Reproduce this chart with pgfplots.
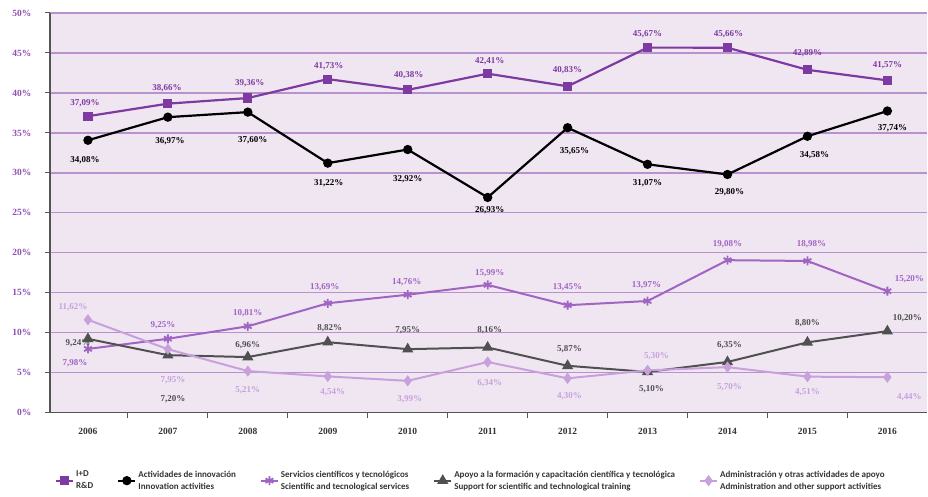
\documentclass[border=0pt]{standalone}
\usepackage{pgfplots}
\usepackage{pgfplotstable}
\pgfplotsset{compat=1.18}
\usepackage{fontspec}
\setmainfont{Liberation Serif}
\newfontfamily\legfont{Carlito}

\definecolor{rdc}{RGB}{125,58,160}
\definecolor{svc}{RGB}{160,100,195}
\definecolor{adm}{RGB}{200,160,220}
\definecolor{sup}{RGB}{80,80,80}
\definecolor{bgc}{RGB}{240,230,242}
\definecolor{gridc}{RGB}{185,145,205}
\definecolor{ytc}{RGB}{140,80,180}
\definecolor{axc}{RGB}{85,85,85}

\pgfplotstableread{
x y dx dy
0 37.09 -3 13
1 38.66 -1 15
2 39.36 2 15
3 41.73 1 13
4 40.38 1 15
5 42.41 2 12
6 40.83 0 16
7 45.67 0 13
8 45.66 1 13
9 42.89 0 17
10 41.57 0 15
}\rd

\pgfplotstableread{
x y dx dy
0 34.08 -3 -20
1 36.97 2 -24
2 37.60 5 -28
3 31.22 1 -20
4 32.92 0 -30
5 26.93 2 -13
6 35.65 7 -24
7 31.07 0 -19
8 29.80 2 -18
9 34.58 7 -19
10 37.74 5 -17
}\inno

\pgfplotstableread{
x y dx dy
0 7.98 -13 -14
1 9.25 -5 14
2 10.81 0 13
3 13.69 -3 16
4 14.76 -1 13
5 15.99 2 12
6 13.45 0 18
7 13.97 -1 16
8 19.08 0 16
9 18.98 4 17
10 15.20 22 12
}\serv

\pgfplotstableread{
x y dx dy
0 9.24 -10 -4
1 7.20 5 -44
2 6.96 0 12
3 8.82 2 14
4 7.95 0 19
5 8.16 2 17
6 5.87 2 17
7 5.10 4 -17
8 6.35 2 17
9 8.80 0 19
10 10.20 20 13
}\supp

\pgfplotstableread{
x y dx dy
0 11.62 -15 13
1 7.95 5 -31
2 5.21 0 -19
3 4.54 5 -16
4 3.99 2 -18
5 6.34 2 -21
6 4.30 2 -18
7 5.30 9 14
8 5.70 2 -20
9 4.51 0 -16
10 4.44 22 -20
}\admin

\pgfplotsset{
  lbl/.style={
    point meta=y,
    nodes near coords={\pgfmathprintnumber[fixed,fixed zerofill,precision=2,use comma,assume math mode=true]{\pgfplotspointmeta}\%},
    visualization depends on={\thisrow{dx} \as \ldx},
    visualization depends on={\thisrow{dy} \as \ldy},
    every node near coord/.append style={anchor=center, xshift=\ldx pt, yshift=\ldy pt,
      font=\fontsize{9}{10}\selectfont\bfseries, text=#1, inner sep=0pt},
  },
}

\begin{document}
\begin{tikzpicture}
\begin{axis}[
  name=ax,
  scale only axis, width=878pt, height=400pt,
  xmin=-0.475, xmax=10.5, ymin=0, ymax=50,
  axis lines=left,
  axis line style={-, draw=axc, line width=1.2pt},
  axis background/.style={fill=bgc},
  ytick={0,5,...,50},
  yticklabel={\pgfmathprintnumber[assume math mode=true]{\tick}\%},
  yticklabel style={font=\fontsize{9.5}{10}\selectfont\bfseries, text=ytc, xshift=-10pt},
  ymajorgrids,
  grid style={gridc, line width=1.3pt},
  tick align=outside,
  major tick length=5pt,
  tick style={axc, line width=1pt},
  xtick={0.5,1.5,...,9.5},
  xticklabels={},
  extra x ticks={0,1,...,10},
  extra x tick labels={2006,2007,2008,2009,2010,2011,2012,2013,2014,2015,2016},
  extra x tick style={major tick length=0pt},
  xticklabel style={font=\fontsize{9.5}{10}\selectfont\bfseries, text=black!80, yshift=-12pt},
  clip=false,
  legend columns=5,
  legend cell align=left,
  legend style={draw=none, fill=none, at={(0.002,-0.17)}, anchor=west,
    font=\legfont\fontsize{9}{12}\selectfont\bfseries, text=black!80,
    cells={align=left},
    /tikz/every even column/.append style={column sep=22pt}},
]
\addplot[rdc, line width=2.2pt, mark=square*, mark size=3.5pt, mark options={solid}, lbl=rdc]
  table[x=x,y=y] {\rd};
\addlegendentry{I+D\\R\&D}
\addplot[black, line width=2.2pt, mark=*, mark size=3.5pt, mark options={solid}, lbl=black]
  table[x=x,y=y] {\inno};
\addlegendentry{Actividades de innovación\\Innovation activities}
\addplot[svc, line width=2pt, mark=asterisk, mark size=4.5pt, mark options={solid, line width=1.8pt}, lbl=svc]
  table[x=x,y=y] {\serv};
\addlegendentry{Servicios científicos y tecnológicos\\Scientific and tecnological services}
\addplot[sup, line width=2pt, mark=triangle*, mark size=4.5pt, mark options={solid}, lbl=sup]
  table[x=x,y=y] {\supp};
\addlegendentry{Apoyo a la formación y capacitación científica y tecnológica\\Support for scientific and technological training}
\addplot[adm, line width=2pt, mark=diamond*, mark size=4pt, mark options={solid}, lbl=adm]
  table[x=x,y=y] {\admin};
\addlegendentry{Administración y otras actividades de apoyo\\Administration and other support activities}
\end{axis}
\path ([shift={(-50pt,-84pt)}]ax.south west) rectangle ([shift={(0pt,13pt)}]ax.north east);
\end{tikzpicture}
\end{document}
